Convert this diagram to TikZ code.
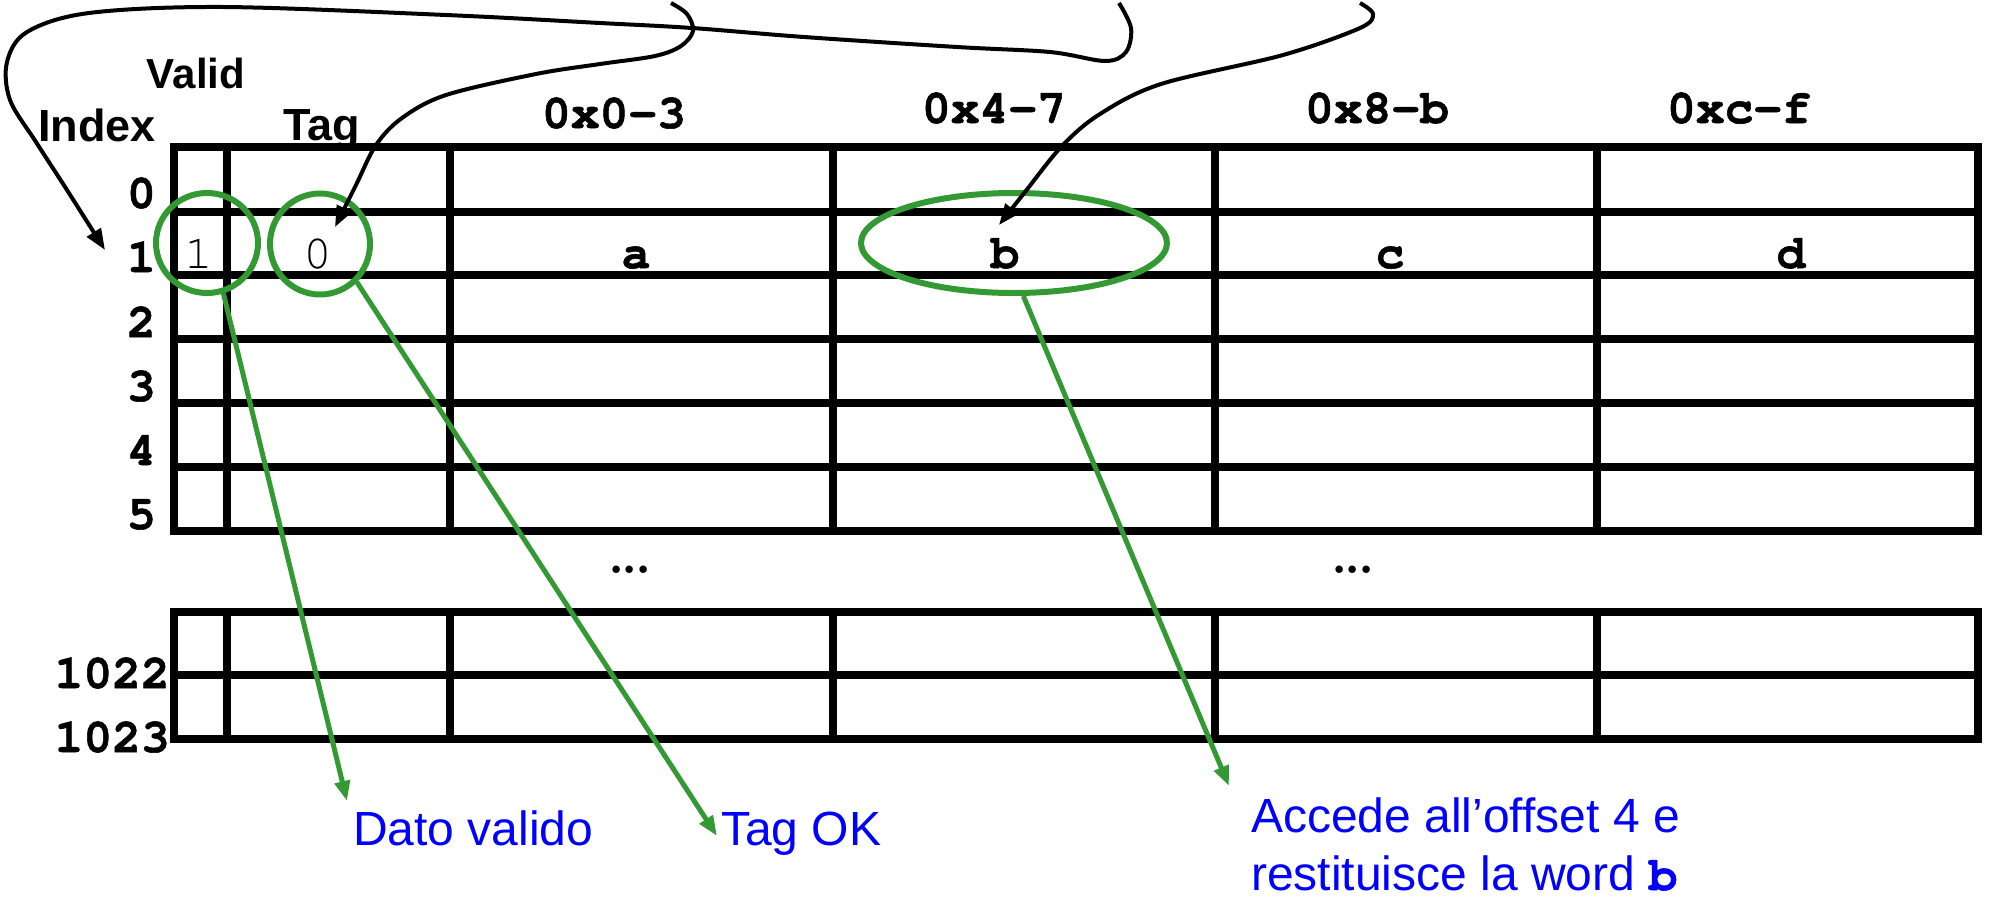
\documentclass[tikz,border=0pt]{standalone}
\usepackage{fontspec}
\setmainfont{Liberation Sans}
\setmonofont[BoldFeatures={FakeBold=1.2}]{TeX Gyre Cursor}
\newfontfamily\lmdots{Latin Modern Roman}
\usetikzlibrary{arrows.meta,shapes.geometric}
\definecolor{cgreen}{RGB}{51,153,51}
\definecolor{cblue}{RGB}{0,0,255}
\begin{document}
\begin{tikzpicture}[x=1pt,y=-1pt,
  gridline/.style={line width=8pt, line cap=rect},
  hdr/.style={font=\fontsize{45}{50}\selectfont\bfseries, inner sep=0pt, anchor=base},
  monob/.style={font=\fontsize{48}{54}\selectfont\ttfamily\bfseries, inner sep=0pt, anchor=base},
  monol/.style={font=\fontsize{48}{54}\selectfont\ttfamily, inner sep=0pt, anchor=base},
  idx/.style={monob, anchor=base east},
  note/.style={font=\fontsize{48}{59}\selectfont, text=cblue, inner sep=0pt, anchor=base west},
  ring/.style={draw=cgreen, line width=6pt, inner sep=0pt, ellipse},
  garrow/.style={draw=cgreen, line width=5pt, -{Triangle[length=20pt,width=15pt]}},
  barrow/.style={line width=4pt, line join=round, -{Triangle[length=21pt,width=16pt]}},
  dots/.style={font=\lmdots\fontsize{52}{60}\selectfont\bfseries, inner sep=0pt}
]
\useasboundingbox (0,0) rectangle (1989,897);

% ---------- upper table ----------
\foreach \y in {147,212,275,339,403,467,531}
  \draw[gridline] (174,\y) -- (1978,\y);
\foreach \x in {174,227,450,833,1215,1597,1978}
  \draw[gridline] (\x,147) -- (\x,531);

% ---------- lower table ----------
\foreach \y in {612,675,739}
  \draw[gridline] (174,\y) -- (1978,\y);
\foreach \x in {174,227,450,833,1215,1597,1978}
  \draw[gridline] (\x,612) -- (\x,739);

% ---------- headers ----------
\node[hdr, font=\fontsize{42}{48}\selectfont\bfseries] (valid) at (196,88) {Valid};
\node[hdr] (index) at (97,141) {Index};
\node[hdr] (tag) at (322,140) {Tag};
\node[monob] (h0) at (614,128) {0x0-3};
\node[monob] (h4) at (994,123) {0x4-7};
\node[monob] (h8) at (1377,123) {0x8-b};
\node[monob] (hc) at (1739,123) {0xc-f};

% ---------- index labels ----------
\node[idx] (i0) at (156,208) {0};
\node[idx] (i1) at (156,272) {1};
\node[idx] (i2) at (156,337) {2};
\node[idx] (i3) at (156,401) {3};
\node[idx] (i4) at (156,465) {4};
\node[idx] (i5) at (156,529) {5};
\node[idx] (i1022) at (170,688) {1022};
\node[idx] (i1023) at (170,752) {1023};

% ---------- row 1 contents ----------
\node[monol] (v1) at (199,268) {1};
\node[monol] (t0) at (318,268) {0};
\node[monob] (wa) at (636,268) {a};
\node[monob] (wb) at (1005,268) {b};
\node[monob] (wc) at (1390,268) {c};
\node[monob] (wd) at (1791,268) {d};

% ---------- ellipsis ----------
\node[dots] (dl) at (630,570) {.\kern-3pt.\kern-3pt.};
\node[dots] (dr) at (1353,570) {.\kern-3pt.\kern-3pt.};

% ---------- green rings ----------
\node[ring, minimum width=102pt, minimum height=100pt] (valc) at (207,243) {};
\node[ring, minimum width=100pt, minimum height=101pt] (tagc) at (320,244) {};
\node[ring, minimum width=306pt, minimum height=100pt] (bell) at (1014,243) {};

% ---------- blue notes ----------
\node[note] (dato) at (353,845) {Dato valido};
\node[note] (tok) at (721,845) {Tag OK};
\node[note] (acc1) at (1251,832) {Accede all’offset 4 e};
\node[note] (acc2) at (1251,890) {restituisce la word {\ttfamily\bfseries b}};

% ---------- green arrows ----------
\coordinate (tipV) at (347,801);
\coordinate (tipT) at (717,836);
\coordinate (tipB) at (1229,786);
\draw[garrow] (valc.-72) -- (tipV);
\draw[garrow] (tagc.-46) -- (tipT);
\draw[garrow] (bell.-80) -- (tipB);

% ---------- black curved arrows ----------
\coordinate (sI) at (1119,3);
\coordinate (tipI) at (105,250);
\coordinate (sT) at (671,3);
\coordinate (tipTg) at (335,227);
\coordinate (sB) at (1360,3);
\coordinate (tipBb) at (999,225);

\draw[barrow] plot[smooth, tension=0.55] coordinates {(sI) (1131,28) (1126,52) (1105,61) (1050,52) (957,47) (804,37) (692,28) (600,23) (446,15) (223,7) (89,13) (27,32) (7,62) (10,100) (36,142) (67,190) (tipI)};
\draw[barrow] plot[smooth, tension=0.55] coordinates {(sT) (687,14) (693,31) (681,46) (655,56) (600,64) (536,74) (446,95) (402,118) (376,145) (356,185) (tipTg)};
\draw[barrow] plot[smooth, tension=0.55] coordinates {(sB) (1373,14) (1360,28) (1283,55) (1161,84) (1100,114) (1062,146) (1025,192) (tipBb)};
\end{tikzpicture}
\end{document}
